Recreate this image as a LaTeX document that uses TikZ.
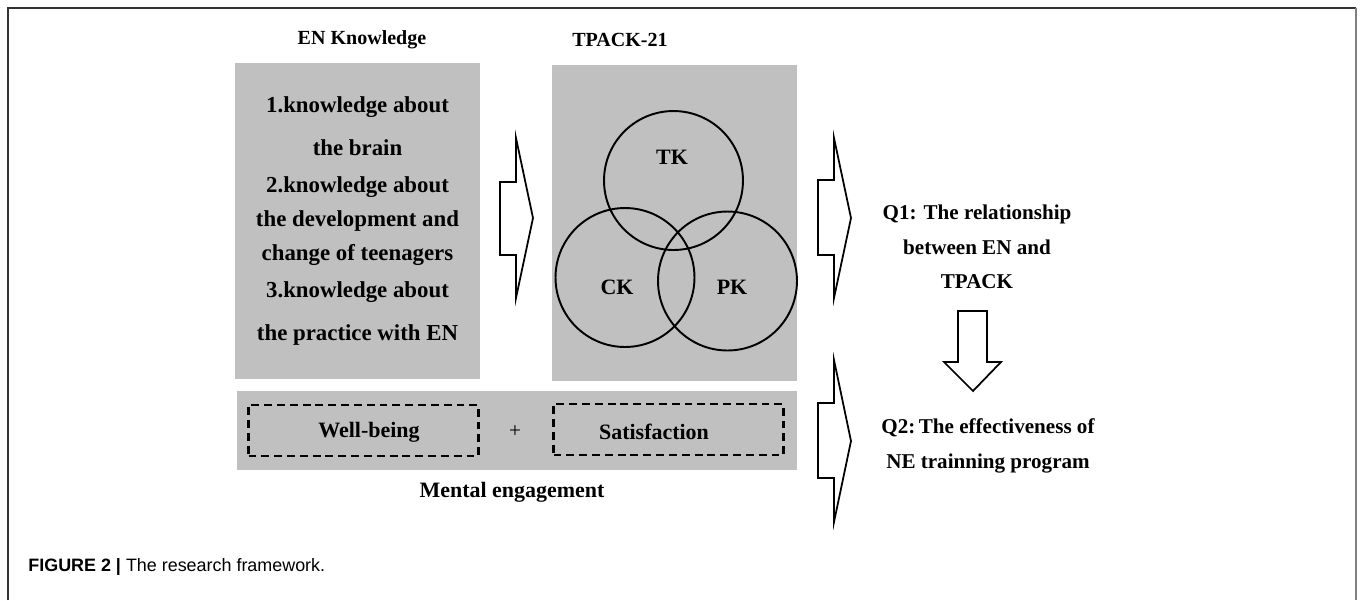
\documentclass[tikz,border=0pt]{standalone}
\usepackage{fontspec}
\setmainfont{Liberation Serif}
\newfontfamily\capfont{Liberation Sans}
\usepackage{tikz}
\usetikzlibrary{positioning,calc}
\definecolor{boxgray}{RGB}{192,192,192}

\begin{document}
\begin{tikzpicture}[x=0.02cm, y=-0.02cm, semithick,
        graybox/.style={fill=boxgray,draw=none,inner sep=0pt},
        venn/.style={circle,draw=black,line width=1.1pt,minimum size=2.78cm,inner sep=0pt},
        dashbox/.style={draw=black,line width=1.2pt,dash pattern=on 4.5pt off 2.8pt,
          minimum width=4.6cm,minimum height=1.02cm,inner sep=0pt},
        lbl/.style={font=\fontsize{12.5}{15}\selectfont\bfseries},
        head/.style={font=\fontsize{11.4}{14}\selectfont\bfseries},
        fat/.style={draw=black,fill=white,line width=1pt,line join=miter}]
        \useasboundingbox (0,0) rectangle (1360,600);
        % frame
        \draw[line width=1.1pt,black!80] (8,600) -- (8,8) -- (1356,8);
        \draw[line width=1.4pt,black!50] (1356,8) -- (1356,600);
        % EN knowledge
        \node[head] at (362,40) (entitle) {EN Knowledge};
        \node[graybox,minimum width=4.9cm,minimum height=6.32cm,align=center,
          font=\fontsize{13}{19.3}\selectfont\bfseries] at (357.5,221) (en)
          {1.knowledge about\\[5pt] the brain\\[2pt] 2.knowledge about\\ the development and\\
           change of teenagers\\[2pt] 3.knowledge about\\[5pt] the practice with EN};
        % TPACK
        \node[head] at (620,40) (tptitle) {TPACK-21};
        \node[graybox,minimum width=4.9cm,minimum height=6.32cm] at (674.5,223) (tpack) {};
        \node[venn] at (673.5,180.5) (tk) {};
        \node[venn] at (625,277.5) (ck) {};
        \node[venn] at (727.5,281) (pk) {};
        \node[lbl] at (672,157) (tklbl) {TK};
        \node[lbl] at (617,287) (cklbl) {CK};
        \node[lbl] at (732,287) (pklbl) {PK};
        % mental engagement
        \node[graybox,minimum width=11.2cm,minimum height=1.58cm] at (517,430.5) (mental) {};
        \node[dashbox] at (363.5,430.5) (wb) {};
        \node[dashbox] at (668.5,429.5) (sat) {};
        \node[lbl] at (369,432) (wblbl) {Well-being};
        \node[lbl] at (654,432) (satlbl) {Satisfaction};
        \node[font=\fontsize{12}{14}\selectfont] at (515,432) (plus) {+};
        \node[lbl] at (512,492) (melbl) {Mental engagement};
        % questions
        \node[align=center,font=\fontsize{12}{19.6}\selectfont\bfseries] at (977,247) (q1)
          {Q1: The relationship\\ between EN and\\ TPACK};
        \node[align=center,font=\fontsize{12}{19.9}\selectfont\bfseries] at (988,445.5) (q2)
          {Q2:\,The effectiveness of\\ NE trainning program};
        % block arrows
        \draw[fat] (500,182) -- (516,182) -- (516,138) -- (533,218) -- (516,298) -- (516,255) -- (500,255) -- cycle;
        \draw[fat] (818,180) -- (834,180) -- (834,138) -- (851,218) -- (834,298) -- (834,255) -- (818,255) -- cycle;
        \draw[fat] (818,403) -- (834,403) -- (834,360) -- (851,441) -- (834,522) -- (834,478) -- (818,478) -- cycle;
        \draw[fat] (958,311) -- (987,311) -- (987,362) -- (1001,362) -- (973,391) -- (944,362) -- (958,362) -- cycle;
        % caption
        \node[anchor=west,font=\capfont\fontsize{10.2}{12}\selectfont] at (22,567) (cap)
          {\textbf{FIGURE 2 |} The research framework.};
      \end{tikzpicture}
\end{document}
